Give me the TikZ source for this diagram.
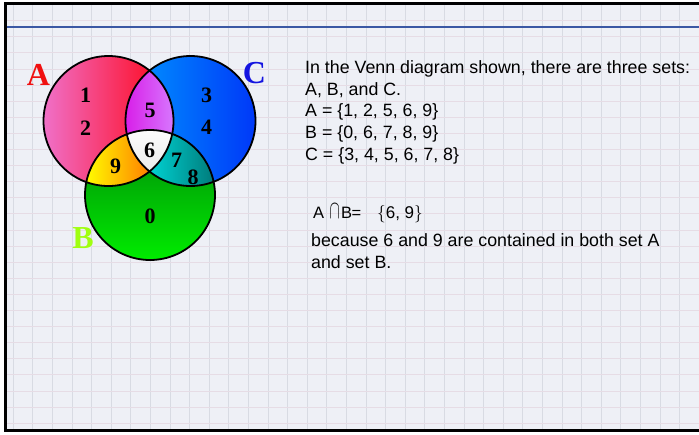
\documentclass[tikz,border=0pt]{standalone}
\usepackage{fontspec}
\usepackage{graphicx}
\setmainfont{Liberation Sans}
\newfontfamily\serifb{Liberation Serif}
\definecolor{bgc}{HTML}{EEF0F6}
\definecolor{vgridc}{HTML}{D8DBE3}
\definecolor{hgridc}{HTML}{E6DCE5}
\definecolor{rulec}{HTML}{3A58A4}
\definecolor{labA}{HTML}{F01010}
\definecolor{labB}{HTML}{A0FF10}
\definecolor{labC}{HTML}{1414E0}
\tikzset{
  vgrid/.style={draw=vgridc,line width=0.8pt},
  hgrid/.style={draw=hgridc,line width=0.8pt},
  num/.style={font=\serifb\bfseries\fontsize{22}{22}\selectfont,inner sep=0pt},
  setlab/.style={font=\serifb\bfseries\fontsize{32}{32}\selectfont,inner sep=0pt},
  body/.style={font=\fontsize{17.8}{21}\selectfont,inner sep=0pt,anchor=base west},
  eqn/.style={font=\fontsize{16.5}{21}\selectfont,inner sep=0pt,anchor=base west},
  outline/.style={draw=black,line width=1.8pt},
}
\begin{document}
\begin{tikzpicture}[x=1pt,y=-1pt]
\useasboundingbox (0,0) rectangle (699,434);
\fill[white] (0,0) rectangle (699,434);
\fill[bgc] (5.5,3) rectangle (699,430.5);
\foreach \i in {0,...,35} \draw[vgrid] ({13.1+19.6*\i},3) -- ({13.1+19.6*\i},430.5);
\foreach \j in {0,...,25} \draw[hgrid] (5.5,{20.6+16.1*\j}) -- (699,{20.6+16.1*\j});
\draw[rulec,line width=1.8pt] (5.5,27.3) -- (699,27.3);
\draw[line width=3pt] (702,3) -- (5.5,3) -- (5.5,430.5) -- (702,430.5);

\coordinate (cA) at (108.5,121);
\coordinate (cC) at (190.5,121);
\coordinate (cB) at (150,195);

% full circles
\shade[left color={rgb,255:red,240;green,112;blue,200}, right color={rgb,255:red,255;green,0;blue,16}] (cA) circle[radius=65pt];
\shade[left color={rgb,255:red,0;green,152;blue,255}, right color={rgb,255:red,0;green,56;blue,248}] (cC) circle[radius=65pt];
\shade[top color={rgb,255:red,0;green,134;blue,10}, bottom color={rgb,255:red,0;green,236;blue,0}] (cB) circle[radius=65pt];

% A and C
\begin{scope}
\clip (cA) circle[radius=65pt];
\clip (cC) circle[radius=65pt];
\shade[left color={rgb,255:red,216;green,28;blue,232}, right color={rgb,255:red,215;green,124;blue,255}] (124,55) rectangle (176,150);
\end{scope}
% A and B
\begin{scope}
\clip (cA) circle[radius=65pt];
\clip (cB) circle[radius=65pt];
\shade[left color={rgb,255:red,255;green,255;blue,0}, right color={rgb,255:red,255;green,122;blue,0}] (85,125) rectangle (152,188);
\end{scope}
% B and C
\begin{scope}
\clip (cC) circle[radius=65pt];
\clip (cB) circle[radius=65pt];
\shade[left color={rgb,255:red,0;green,212;blue,212}, right color={rgb,255:red,0;green,120;blue,120}] (148,125) rectangle (216,188);
\end{scope}
% A, B and C
\begin{scope}
\clip (cA) circle[radius=65pt];
\clip (cC) circle[radius=65pt];
\clip (cB) circle[radius=65pt];
\shade[top color=white, bottom color={rgb,255:red,228;green,228;blue,228}] (120,125) rectangle (180,185);
\end{scope}

\draw[outline] (cA) circle[radius=65pt];
\draw[outline] (cC) circle[radius=65pt];
\draw[outline] (cB) circle[radius=65pt];

% region numbers
\node[num] (n1) at (85.7,95) {1};
\node[num] (n2) at (85.7,128) {2};
\node[num] (n5) at (150,110) {5};
\node[num] (n3) at (206.7,95) {3};
\node[num] (n4) at (206.7,127) {4};
\node[num] (n6) at (149.5,150.5) {6};
\node[num] (n9) at (115.5,166) {9};
\node[num] (n7) at (176.5,160) {7};
\node[num] (n8) at (193,177) {8};
\node[num] (n0) at (150,216.5) {0};

% set labels
\node[setlab,text=labA] (lA) at (38.5,75) {A};
\node[setlab,text=labC] (lC) at (254.5,73.5) {C};
\node[setlab,text=labB] (lB) at (83,238.5) {B};

% text
\node[body] (t1) at (305,73.3) {In the Venn diagram shown, there are three sets:};
\node[body] (t2) at (305,95) {A, B, and C.};
\node[body] (t3) at (305,116.7) {A = \{1, 2, 5, 6, 9\}};
\node[body] (t4) at (305,138.3) {B = \{0, 6, 7, 8, 9\}};
\node[body] (t5) at (305,160) {C = \{3, 4, 5, 6, 7, 8\}};
\node[eqn] (eA) at (313,218) {A};
\node[eqn] (eCap) at (329.5,218) {\scalebox{0.9}[1.5]{$\cap$}};
\node[eqn] (eB) at (341,218) {B};
\node[eqn] (eEq) at (351.5,218) {=};
\node[eqn,font=\fontsize{17}{21}\selectfont] (eSet) at (377,218) {$\bigl\{$6, 9$\bigr\}$};
\node[body] (t7) at (311,246.7) {because 6 and 9 are contained in both set A};
\node[body] (t8) at (311,268.3) {and set B.};
\end{tikzpicture}
\end{document}
